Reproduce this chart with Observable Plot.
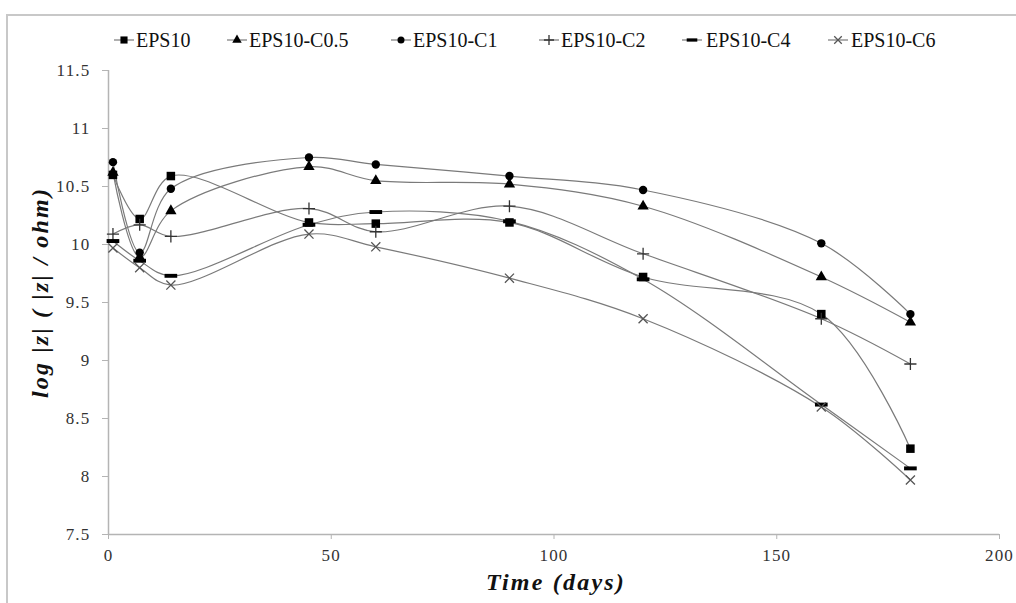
<!DOCTYPE html>
<html>
<head>
<meta charset="utf-8">
<script src="https://cdn.jsdelivr.net/npm/d3@7"></script>
<script src="https://cdn.jsdelivr.net/npm/@observablehq/plot@0.6"></script>
<style>
  html, body { margin: 0; padding: 0; background: #fff; }
  #wrap { position: relative; width: 1016px; height: 603px; overflow: hidden; }
  #frame { position: absolute; left: 6px; top: 14px; width: 1020px; height: 600px;
           border-top: 2px solid #c8c8c8; border-left: 2px solid #c8c8c8; }
  #chart { position: absolute; left: 0; top: 0; }
  #legend { position: absolute; left: 0; top: 28px; width: 1016px; height: 24px;
            font-family: 'Liberation Serif', 'DejaVu Serif', serif; font-size: 20px; color: #111; }
  .item { position: absolute; top: 0; height: 24px; line-height: 24px; white-space: nowrap; }
  .item svg { position: absolute; top: 0; }
  g[aria-label="y-axis tick label"] text, g[aria-label="x-axis tick label"] text { letter-spacing: 1.2px; }
  g[aria-label="text"] text { letter-spacing: 2.2px; }
</style>
</head>
<body>
<div id="wrap">
  <div id="frame"></div>
  <div id="chart"></div>
  <div id="legend"></div>
</div>
<script>
// Measurement days
const days = [1, 7, 14, 45, 60, 90, 120, 160, 180];

// log |Z| per coating
const eps10   = [10.60, 10.22, 10.59, 10.19, 10.18, 10.19, 9.72, 9.40, 8.24];
const epsC05  = [10.62, 9.89, 10.29, 10.67, 10.55, 10.52, 10.33, 9.72, 9.33];
const epsC1   = [10.71, 9.93, 10.48, 10.75, 10.69, 10.59, 10.47, 10.01, 9.40];
const epsC2   = [10.09, 10.17, 10.07, 10.31, 10.11, 10.33, 9.92, 9.36, 8.97];
const epsC4   = [10.03, 9.86, 9.73, 10.17, 10.28, 10.20, 9.70, 8.62, 8.07];
const epsC6   = [9.97, 9.80, 9.65, 10.09, 9.98, 9.71, 9.36, 8.60, 7.97];

const seriesNames = ["EPS10", "EPS10-C0.5", "EPS10-C1", "EPS10-C2", "EPS10-C4", "EPS10-C6"];
const seriesValues = [eps10, epsC05, epsC1, epsC2, epsC4, epsC6];

const xTicks = [0, 50, 100, 150, 200];
const yTicks = [7.5, 8, 8.5, 9, 9.5, 10, 10.5, 11, 11.5];
const xLabel = "Time (days)";
const yLabel = "log |z| ( |z| / ohm)";

// a short filled bar used as the C4 marker
const dashSymbol = {
  draw(context, size) {
    const w = Math.sqrt(size) * 0.55, h = Math.sqrt(size) * 0.17;
    context.rect(-w, -h, 2 * w, 2 * h);
  }
};

const markerStyle = {
  "EPS10":      {symbol: "square",   fill: "#000", stroke: "none", r: 4.8},
  "EPS10-C0.5": {symbol: "triangle", fill: "#000", stroke: "none", r: 4.2},
  "EPS10-C1":   {symbol: "circle",   fill: "#000", stroke: "none", r: 4.2},
  "EPS10-C2":   {symbol: "plus",     fill: "none", stroke: "#333", r: 4.0},
  "EPS10-C4":   {symbol: dashSymbol, fill: "#000", stroke: "none", r: 6.5},
  "EPS10-C6":   {symbol: "times",    fill: "none", stroke: "#555", r: 4.2}
};

const rows = seriesNames.flatMap((name, i) =>
  days.map((d, j) => ({series: name, day: d, value: seriesValues[i][j]})));

const serif = "'Liberation Serif', 'DejaVu Serif', serif";

const chart = Plot.plot({
  width: 1016,
  height: 603,
  marginLeft: 108,
  marginRight: 17,
  marginTop: 70,
  marginBottom: 69,
  style: {fontFamily: serif, background: "transparent"},
  x: {domain: [0, 200]},
  y: {domain: [7.5, 11.5]},
  marks: [
    Plot.ruleX([0], {stroke: "#b4b4b4", strokeWidth: 1.5}),
    Plot.ruleY([7.5], {stroke: "#b4b4b4", strokeWidth: 1.5}),
    Plot.axisY({ticks: yTicks, tickFormat: d => String(d), tickSize: 6, tickPadding: 12,
                stroke: "#b4b4b4", fill: "#333", fontSize: 17, fontFamily: serif, label: null}),
    Plot.axisX({ticks: xTicks, tickFormat: d => String(d), tickSize: 5, tickPadding: 9,
                stroke: "#b4b4b4", fill: "#333", fontSize: 17, fontFamily: serif, label: null}),
    Plot.line(rows, {x: "day", y: "value", z: "series", curve: "catmull-rom",
                     stroke: "#7a7a7a", strokeWidth: 1.2}),
    ...seriesNames.map(name => {
      const s = markerStyle[name];
      return Plot.dot(rows.filter(d => d.series === name), {
        x: "day", y: "value", symbol: s.symbol, r: s.r,
        fill: s.fill, stroke: s.stroke, strokeWidth: 1.3
      });
    }),
    Plot.text([yLabel], {frameAnchor: "left", textAnchor: "middle", rotate: -90, dx: -68, dy: -10,
                         text: d => d, fontFamily: serif, fontSize: 24, fontWeight: "bold",
                         fontStyle: "italic", fill: "#111"}),
    Plot.text([xLabel], {frameAnchor: "bottom", textAnchor: "middle", dy: 55, dx: 2, text: d => d,
                         fontFamily: serif, fontSize: 24, fontWeight: "bold", fontStyle: "italic", fill: "#111"})
  ]
});
document.getElementById("chart").append(chart);

// Legend: swatch (line + marker) followed by the series name
const legendPos = [
  {swatch: 112, text: 136},
  {swatch: 225, text: 249},
  {swatch: 389, text: 413},
  {swatch: 537, text: 561},
  {swatch: 680, text: 706},
  {swatch: 826, text: 851}
];
const legend = d3.select("#legend");
seriesNames.forEach((name, i) => {
  const s = markerStyle[name];
  const item = legend.append("div").attr("class", "item").style("left", legendPos[i].swatch + "px");
  const svg = item.append("svg").attr("width", 24).attr("height", 24).style("left", "0px");
  svg.append("line").attr("x1", 2).attr("x2", 22).attr("y1", 12).attr("y2", 12)
     .attr("stroke", "#7a7a7a").attr("stroke-width", 1.2);
  const sym = typeof s.symbol === "string"
    ? {square: d3.symbolSquare, triangle: d3.symbolTriangle, circle: d3.symbolCircle,
       plus: d3.symbolPlus, times: d3.symbolTimes}[s.symbol]
    : s.symbol;
  svg.append("path").attr("transform", "translate(12,12)")
     .attr("d", d3.symbol(sym, Math.PI * s.r * s.r * 0.7)())
     .attr("fill", s.fill).attr("stroke", s.stroke).attr("stroke-width", 1.3);
  item.append("span").style("position", "absolute")
      .style("left", (legendPos[i].text - legendPos[i].swatch) + "px").text(name);
});
</script>
</body>
</html>
